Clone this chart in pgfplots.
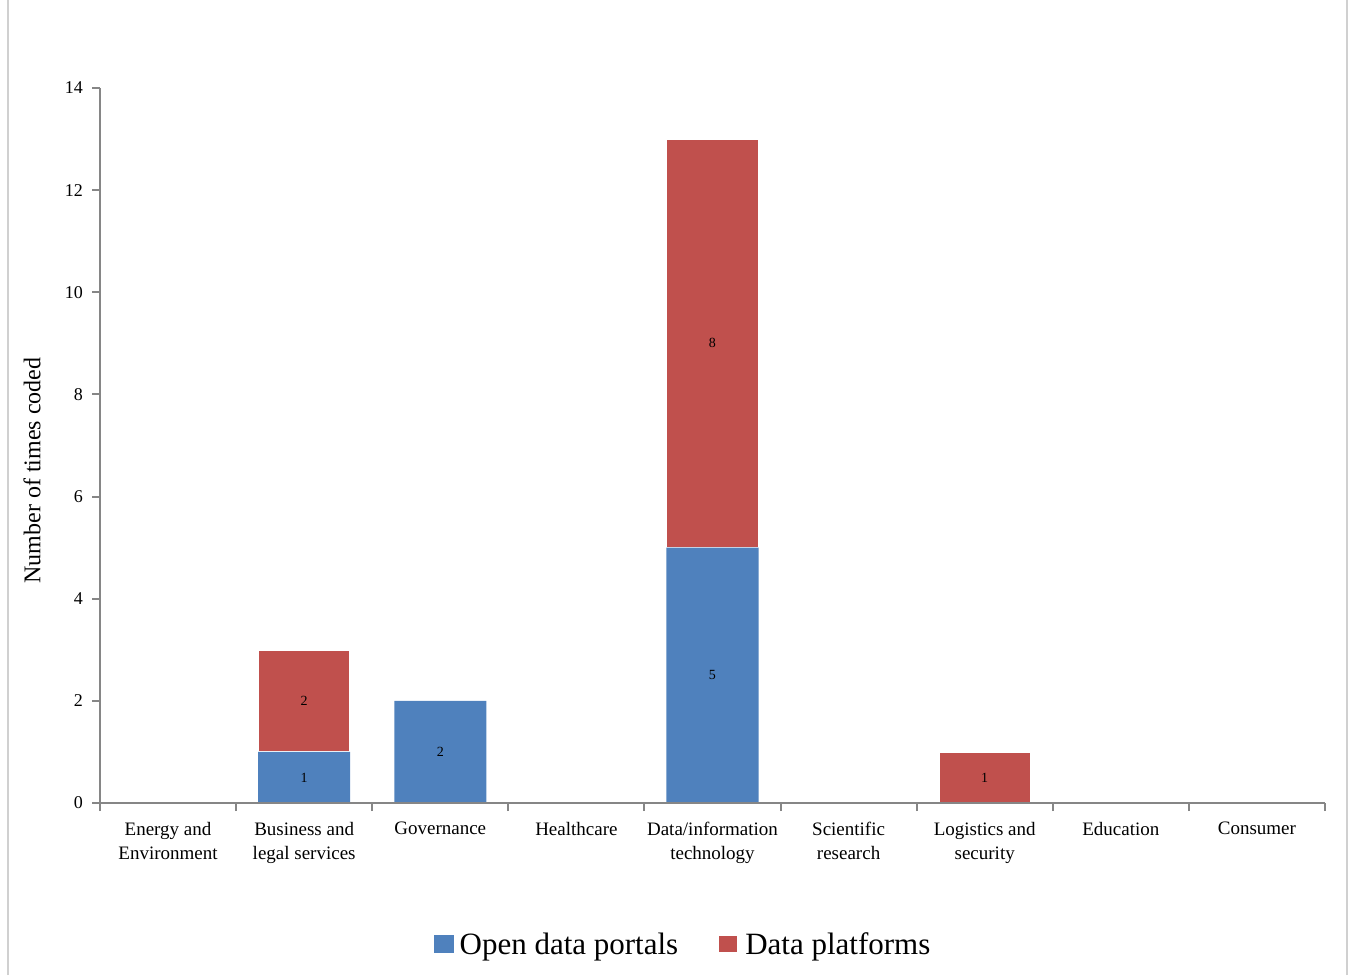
\documentclass[border=0pt]{standalone}
\usepackage{pgfplots}
\pgfplotsset{compat=1.18}
\usepackage{pgfplotstable}
\usepackage{fontspec}
\setmainfont{Liberation Serif}

\definecolor{portalblue}{HTML}{4F81BD}
\definecolor{platformred}{HTML}{C0504D}
\definecolor{axisgray}{HTML}{868686}
\definecolor{framegray}{HTML}{D0D0D0}

% x index, open data portals, data platforms
\pgfplotstableread{
x a b
0 0 0
1 1 2
2 2 0
3 0 0
4 5 8
5 0 0
6 0 1
7 0 0
8 0 0
}\coded

% each segment carries its own count, empty segments carry none
\pgfplotsset{
  seglabel/.style={
    visualization depends on={\thisrow{#1} \as \segval},
    point meta=\thisrow{#1},
    nodes near coords={\pgfmathtruncatemacro\v{\segval}\ifnum\v>0 \v\fi},
    every node near coord/.append style={font=\fontsize{7}{8}\selectfont, text=black,
      anchor=center},
  },
}

\begin{document}
\begin{tikzpicture}[x=1pt,y=1pt]
\path[use as bounding box] (0,0) rectangle (676.5,487.5);
\draw[framegray, line width=1pt] (4,0) -- (4,487.5);
\draw[framegray, line width=1pt] (673.5,0) -- (673.5,487.5);
\begin{axis}[
  at={(50pt,86pt)}, anchor=south west,
  scale only axis, width=612.5pt, height=357.5pt,
  ybar stacked, bar width=46pt,
  axis on top,
  xmin=-0.5, xmax=8.5, ymin=0, ymax=14,
  ytick={0,2,...,14},
  xtick={0,...,8},
  xticklabels={{Energy and\\Environment},{Business and\\legal services},Governance,Healthcare,{Data/information\\technology},{Scientific\\research},{Logistics and\\security},Education,Consumer},
  minor xtick={-0.5,0.5,...,8.5},
  major x tick style={draw=none},
  minor tick length=4pt, major tick length=4pt,
  tick align=outside,
  axis x line*=bottom, axis y line*=left,
  axis line style={axisgray, line width=1.2pt, -},
  every tick/.style={axisgray, line width=1pt},
  /pgf/number format/assume math mode=true,
  yticklabel style={font=\fontsize{9}{10}\selectfont, xshift=-1pt},
  xticklabel style={font=\fontsize{9.5}{12}\selectfont, align=center, anchor=north, yshift=-2pt},
  ylabel={Number of times coded},
  ylabel style={font=\fontsize{12}{14}\selectfont, at={(-34pt,0.5)}, anchor=center, xshift=-12.5pt},
  legend style={draw=none, at={(0.5,0)}, anchor=center, xshift=-13.75pt, yshift=-71pt,
    legend columns=2, font=\fontsize{15.5}{18}\selectfont,
    /tikz/every even column/.append style={column sep=16.5pt},
    /tikz/every odd column/.append style={column sep=0pt},
    nodes={inner xsep=3pt}},
  legend image code/.code={\fill[#1] (0pt,-4pt) rectangle (10pt,5pt);},
]
\addplot[fill=portalblue, draw=none, seglabel=a] table[x=x, y=a] {\coded};
% a thin white edge parts the stacked segments
\addplot[fill=platformred, draw=white, line width=1pt, seglabel=b] table[x=x, y=b] {\coded};
\legend{Open data portals, Data platforms}
\end{axis}
\end{tikzpicture}
\end{document}
